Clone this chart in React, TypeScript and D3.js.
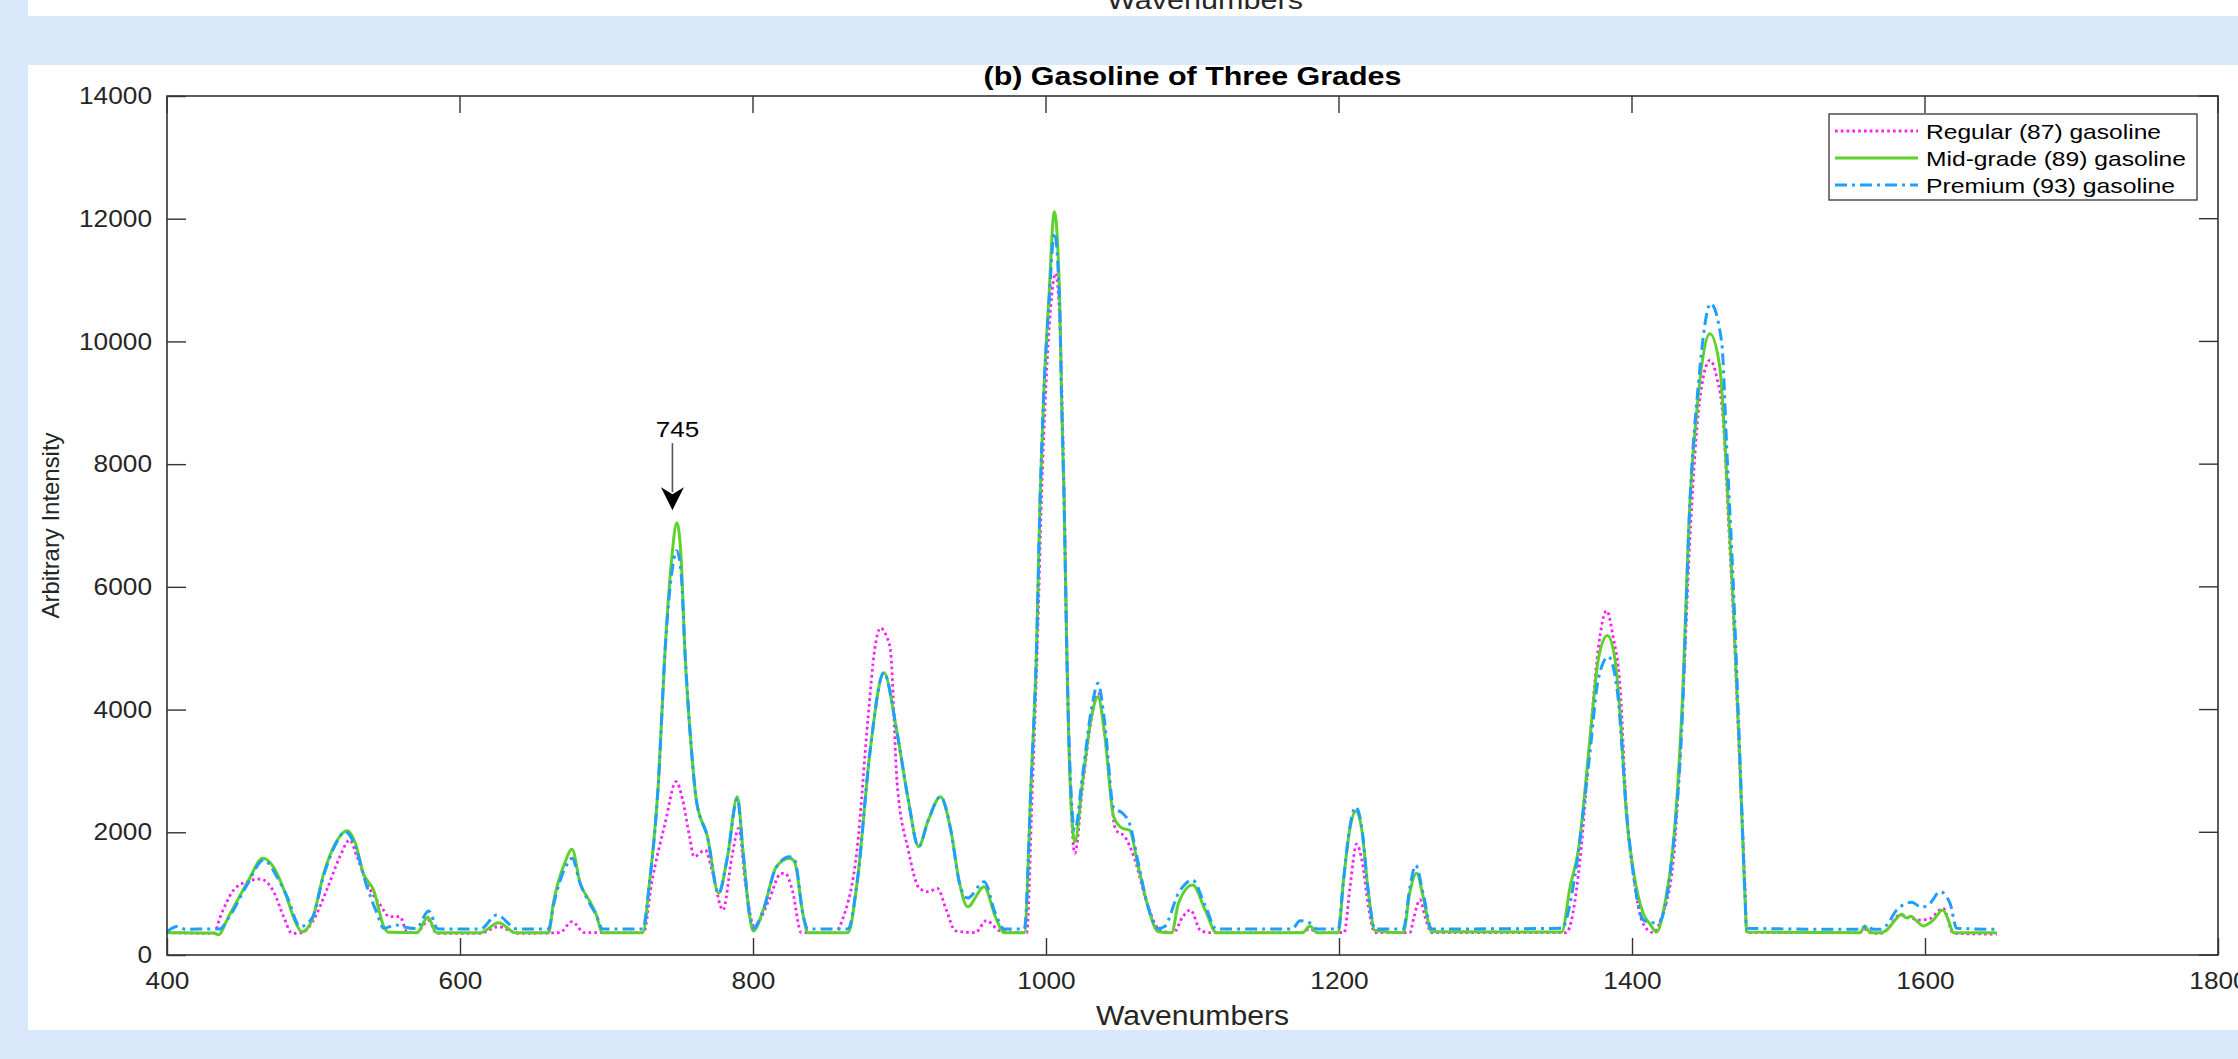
import React, { useRef, useEffect } from 'react';
import * as d3 from 'd3';

// Regular (87) gasoline — wavenumber / intensity
const regularWave = [400, 432, 436.4, 445.5, 454.6, 463.7, 472.8, 479.6, 485.3, 492, 500, 509, 518, 524.7, 529.7, 536.5, 545.6, 552, 559, 563.8, 570, 578.6, 584, 614, 626, 640, 668, 676.5, 685, 725.3, 730.8, 740, 747.5, 752, 756.7, 759.7, 767.4, 772, 779.5, 785.6, 790.2, 794.8, 800.9, 804, 811, 819.2, 822, 826.8, 833, 855.7, 861.8, 871, 878.6, 883, 887, 891, 893.8, 898.4, 906, 913.6, 919.7, 925.8, 932, 938, 951.7, 959.3, 968.5, 986.8, 990.5, 994, 997, 1000, 1003, 1006.5, 1009.5, 1011, 1012.5, 1014.2, 1016, 1019.7, 1024.8, 1031, 1035.5, 1040, 1047.7, 1053.8, 1060, 1069, 1078, 1087, 1093.4, 1098.6, 1105.6, 1112, 1175, 1180, 1185, 1203.5, 1207.5, 1212, 1216, 1220, 1224.5, 1248.4, 1251, 1255.3, 1259, 1263.2, 1355, 1364.5, 1371.3, 1377, 1382.7, 1387, 1391.8, 1396.4, 1401, 1407.7, 1414.6, 1420, 1428.2, 1434, 1440, 1446, 1453.2, 1458, 1462.3, 1466, 1469.2, 1473.7, 1477, 1478.3, 1555, 1560, 1565, 1570, 1573.9, 1583, 1590, 1596.6, 1603, 1612.5, 1619.4, 1649];
const regularValue = [364, 353, 625, 1059, 1195, 1239, 1032, 625, 353, 360, 570, 1059, 1602, 1874, 1602, 1168, 815, 625, 625, 380, 364, 560, 353, 353, 460, 353, 364, 543, 364, 364, 1168, 2146, 2825, 2526, 1928, 1602, 1711, 1385, 733, 1602, 2064, 1168, 462, 543, 900, 1331, 1331, 1059, 364, 364, 625, 1711, 3884, 4971, 5330, 5200, 4971, 2798, 1711, 1086, 1032, 1086, 733, 397, 364, 560, 397, 364, 2600, 4971, 7500, 9300, 10500, 11109, 10300, 9000, 7400, 4971, 3200, 1657, 2700, 3850, 4265, 3600, 2037, 1928, 1602, 842, 397, 364, 625, 733, 397, 364, 364, 430, 364, 364, 1100, 1807, 1500, 800, 364, 364, 600, 901, 600, 364, 364, 1543, 3500, 5000, 5611, 5200, 4386, 2300, 1300, 505, 364, 600, 1543, 3800, 7000, 9000, 9692, 9400, 8700, 7000, 5500, 3000, 1200, 364, 364, 420, 353, 353, 407, 652, 600, 570, 590, 760, 353, 340];

// Mid-grade (89) gasoline
const midWave = [400, 420, 432, 435, 442, 454.6, 465.5, 472.8, 480.8, 487.6, 492, 499, 507, 515, 522.9, 528.6, 534, 541, 548, 551, 570.6, 578, 584, 614, 626.4, 637.8, 660.5, 663.7, 671.4, 676.5, 682, 688.1, 692.7, 697.3, 724.7, 729.3, 735.4, 740, 744.4, 748, 751, 753.5, 758, 761.3, 768.9, 776.5, 782.6, 789.3, 793.3, 797.8, 800.3, 807, 816, 825, 828.3, 834.4, 837.4, 864.9, 871, 880, 889.3, 898.4, 906, 913, 919.7, 928, 935, 941, 946.5, 957.8, 965.4, 971.5, 985.2, 989.8, 993.5, 996, 998.4, 1002, 1005.7, 1009.3, 1010.6, 1012.3, 1014.2, 1015.7, 1019.7, 1024.8, 1031, 1035.5, 1040, 1046.2, 1052.3, 1056.9, 1063, 1069, 1076.6, 1085.8, 1090.4, 1100.1, 1108.7, 1116.3, 1175, 1180.2, 1185, 1199.5, 1203, 1207.5, 1211.4, 1215.4, 1220, 1224.5, 1243.9, 1248.4, 1253, 1257.5, 1263.2, 1352, 1357.7, 1363.4, 1371.3, 1377, 1383.2, 1388.4, 1391.8, 1396.4, 1401, 1407.7, 1412.3, 1416.8, 1422.5, 1428.2, 1434, 1439.6, 1445.3, 1453.2, 1460, 1464.6, 1469.2, 1473.7, 1477.1, 1478.3, 1555.7, 1559, 1562.5, 1570.4, 1575, 1579.6, 1584.1, 1587.5, 1590.2, 1594.3, 1598.9, 1605.7, 1612.1, 1616, 1619.4, 1649];
const midValue = [364, 360, 358, 330, 625, 1168, 1575, 1429, 1005, 543, 380, 570, 1331, 1820, 2026, 1820, 1331, 1059, 462, 370, 364, 614, 364, 364, 527, 364, 364, 842, 1494, 1722, 1168, 896, 679, 364, 364, 1168, 2798, 4971, 6437, 7046, 6437, 4971, 3341, 2526, 1928, 1005, 1602, 2580, 1657, 625, 391, 733, 1439, 1575, 1521, 625, 364, 364, 1168, 3341, 4601, 3612, 2526, 1766, 2200, 2580, 2037, 1168, 788, 1114, 625, 364, 364, 2798, 4971, 7468, 9098, 10727, 12114, 10727, 9098, 7468, 4971, 3341, 1847, 2798, 3884, 4210, 3612, 2254, 2064, 2037, 1439, 842, 380, 364, 842, 1141, 733, 364, 364, 471, 364, 364, 1204, 2066, 2342, 2066, 1032, 400, 364, 1032, 1333, 945, 380, 375, 1108, 1711, 3523, 4818, 5206, 4818, 3955, 2230, 1367, 676, 505, 375, 849, 1798, 3955, 7405, 9131, 10124, 9563, 7837, 5681, 3092, 935, 375, 364, 473, 364, 364, 435, 570, 663, 603, 630, 554, 473, 570, 733, 570, 364, 364];

// Premium (93) gasoline
const premiumWave = [400, 407, 413, 420, 436, 442, 454.6, 466, 475, 482, 491, 499, 507, 515, 521.7, 528, 536.5, 543, 548, 556, 564, 570, 578.6, 585, 614, 625, 639, 660.5, 663.7, 671.4, 676.5, 682, 688, 693, 697.3, 724.7, 729.3, 735.4, 740, 744.4, 748, 751, 753.5, 758, 761.3, 768.9, 776.5, 782.6, 789.3, 793.3, 797.8, 800.3, 807, 816, 825, 828.3, 834.4, 837.4, 864.9, 871, 880, 889.3, 898.4, 906, 913, 919.7, 928, 935, 941, 946.5, 957.8, 965.4, 971.5, 985.2, 989.8, 993.5, 996, 998.4, 1002, 1005.7, 1009.3, 1010.6, 1012.3, 1014.2, 1015.7, 1019.7, 1024.8, 1031, 1035.5, 1040, 1046.2, 1052.3, 1056.9, 1063, 1069, 1076.6, 1081, 1090.4, 1100, 1108.7, 1116.3, 1168, 1173.4, 1180.2, 1185, 1199.5, 1203, 1207.5, 1211.4, 1215.4, 1220, 1224.5, 1243.9, 1248.4, 1252.3, 1257.5, 1263.2, 1352, 1361, 1371.3, 1377, 1383.9, 1390, 1396.4, 1401, 1407.7, 1413.4, 1418, 1427, 1434, 1439.6, 1445.3, 1453.7, 1461.2, 1464.6, 1469.2, 1473.7, 1477.1, 1478.3, 1555.7, 1559.8, 1565, 1570, 1573.9, 1580.7, 1590.9, 1597.8, 1603.4, 1610.3, 1617.1, 1621.6, 1649];
const premiumValue = [380, 463, 418, 424, 424, 600, 1140, 1548, 1277, 950, 463, 600, 1300, 1800, 2010, 1800, 1113, 700, 435, 489, 446, 430, 717, 424, 424, 652, 424, 424, 800, 1400, 1575, 1168, 860, 650, 424, 424, 1168, 2798, 4971, 6200, 6590, 6200, 4971, 3341, 2526, 1928, 1005, 1602, 2550, 1657, 625, 437, 733, 1439, 1602, 1560, 625, 424, 424, 1168, 3341, 4601, 3612, 2526, 1766, 2200, 2580, 2037, 1168, 929, 1195, 680, 424, 424, 2798, 4971, 7468, 9098, 10600, 11772, 10600, 9098, 7468, 4971, 3500, 2037, 2900, 4000, 4427, 3800, 2400, 2309, 2150, 1500, 842, 430, 466, 1005, 1222, 800, 424, 424, 557, 520, 424, 424, 1204, 2100, 2412, 2100, 1032, 424, 424, 1100, 1462, 1000, 424, 435, 1281, 3300, 4500, 4861, 4300, 2300, 1300, 570, 525, 525, 1543, 3700, 7405, 9300, 10616, 9993, 8300, 6000, 3200, 1000, 435, 418, 473, 418, 418, 489, 733, 858, 777, 842, 1032, 842, 435, 418];

const seriesNames = ['Regular (87) gasoline', 'Mid-grade (89) gasoline', 'Premium (93) gasoline'];
const xTicks = [400, 600, 800, 1000, 1200, 1400, 1600, 1800];
const yTicks = [0, 2000, 4000, 6000, 8000, 10000, 12000, 14000];
const peakLabel = 745;

const W = 2238;
const H = 1059;
const FONT = "'Liberation Sans', Arial, Helvetica, sans-serif";
const AXIS = '#333333';

const styles = [
  { color: '#ff1aff', dash: '2.6,3.2', width: 2.8, legendW: 235 },
  { color: '#5fd22a', dash: null, width: 3, legendW: 260 },
  { color: '#1f9fff', dash: '12,5,3,5', width: 3, legendW: 249 },
];

const App: React.FC = () => {
  const ref = useRef<SVGSVGElement>(null);

  useEffect(() => {
    if (!ref.current) return;
    const svg = d3.select(ref.current);
    svg.selectAll('*').remove();

    const left = 167, right = 2218, top = 96, bottom = 955;
    const x = d3.scaleLinear().domain([400, 1800]).range([left, right]);
    const y = d3.scaleLinear().domain([0, 14000]).range([bottom, top]);

    // page background and the white figure panels
    svg.append('rect').attr('width', W).attr('height', H).attr('fill', '#d9e9fb');
    svg.append('rect').attr('x', 28).attr('y', 0).attr('width', W - 28).attr('height', 16).attr('fill', '#fff');
    svg.append('rect').attr('x', 28).attr('y', 65).attr('width', W - 28).attr('height', 965).attr('fill', '#fff');

    // tail of the x label from the panel above (cut off in the original too)
    svg.append('text')
      .attr('x', 1205).attr('y', 9)
      .attr('text-anchor', 'middle')
      .attr('font-size', 26)
      .attr('textLength', 196).attr('lengthAdjust', 'spacingAndGlyphs')
      .attr('fill', '#262626')
      .text('Wavenumbers');

    const seriesData: [number, number][][] = [
      d3.zip(regularWave, regularValue) as [number, number][],
      d3.zip(midWave, midValue) as [number, number][],
      d3.zip(premiumWave, premiumValue) as [number, number][],
    ];

    const line = d3.line<[number, number]>()
      .x(d => x(d[0]))
      .y(d => y(d[1]))
      .curve(d3.curveMonotoneX);

    const plot = svg.append('g');
    seriesData.forEach((pts, i) => {
      const p = plot.append('path')
        .datum(pts)
        .attr('fill', 'none')
        .attr('stroke', styles[i].color)
        .attr('stroke-width', styles[i].width)
        .attr('stroke-linejoin', 'round')
        .attr('d', line);
      if (styles[i].dash) p.attr('stroke-dasharray', styles[i].dash);
    });

    // axes: ticks inward, box on
    const xAxis = d3.axisBottom(x).tickValues(xTicks).tickSizeInner(-17).tickSizeOuter(0).tickPadding(17).tickFormat(d3.format('d'));
    const yAxis = d3.axisLeft(y).tickValues(yTicks).tickSizeInner(-19).tickSizeOuter(0).tickPadding(15).tickFormat(d3.format('d'));

    const gx = svg.append('g').attr('transform', `translate(0,${bottom})`).call(xAxis);
    const gy = svg.append('g').attr('transform', `translate(${left},0)`).call(yAxis);
    [gx, gy].forEach(g => {
      g.select('.domain').remove();
      g.selectAll('line').attr('stroke', AXIS).attr('stroke-width', 1.4);
      g.selectAll('text')
        .attr('fill', '#262626')
        .attr('font-family', FONT)
        .attr('font-size', 24)
        .attr('textLength', (d: any) => String(d).length * 14.6)
        .attr('lengthAdjust', 'spacingAndGlyphs');
    });

    // mirrored ticks on top and right
    svg.append('g').selectAll('line').data(xTicks).join('line')
      .attr('x1', d => x(d)).attr('x2', d => x(d))
      .attr('y1', top).attr('y2', top + 17)
      .attr('stroke', AXIS).attr('stroke-width', 1.4);
    svg.append('g').selectAll('line').data(yTicks).join('line')
      .attr('x1', right).attr('x2', right - 19)
      .attr('y1', d => y(d)).attr('y2', d => y(d))
      .attr('stroke', AXIS).attr('stroke-width', 1.4);

    svg.append('rect')
      .attr('x', left).attr('y', top)
      .attr('width', right - left).attr('height', bottom - top)
      .attr('fill', 'none').attr('stroke', AXIS).attr('stroke-width', 1.6);

    // title and axis labels
    svg.append('text')
      .attr('x', (left + right) / 2).attr('y', 85)
      .attr('text-anchor', 'middle')
      .attr('font-weight', 'bold').attr('font-size', 25)
      .attr('textLength', 418).attr('lengthAdjust', 'spacingAndGlyphs')
      .attr('fill', '#000')
      .text('(b) Gasoline of Three Grades');

    svg.append('text')
      .attr('x', (left + right) / 2).attr('y', 1025)
      .attr('text-anchor', 'middle')
      .attr('font-size', 27)
      .attr('textLength', 193).attr('lengthAdjust', 'spacingAndGlyphs')
      .attr('fill', '#262626')
      .text('Wavenumbers');

    svg.append('text')
      .attr('transform', `translate(59,${(top + bottom) / 2}) rotate(-90)`)
      .attr('text-anchor', 'middle')
      .attr('font-size', 24)
      .attr('textLength', 186).attr('lengthAdjust', 'spacingAndGlyphs')
      .attr('fill', '#262626')
      .text('Arbitrary Intensity');

    // annotation arrow over the 745 band
    const ax = x(peakLabel);
    const tipY = y(7250);
    svg.append('line')
      .attr('x1', ax).attr('x2', ax)
      .attr('y1', tipY - 67).attr('y2', tipY - 18)
      .attr('stroke', '#555').attr('stroke-width', 1.6);
    svg.append('path')
      .attr('d', `M${ax},${tipY} L${ax - 11.5},${tipY - 23} L${ax},${tipY - 16} L${ax + 11.5},${tipY - 23} Z`)
      .attr('fill', '#000');
    svg.append('text')
      .attr('x', ax + 5).attr('y', tipY - 73)
      .attr('text-anchor', 'middle')
      .attr('font-size', 22.5)
      .attr('textLength', 43.5).attr('lengthAdjust', 'spacingAndGlyphs')
      .attr('fill', '#000')
      .text(String(peakLabel));

    // legend
    const lg = svg.append('g');
    lg.append('rect')
      .attr('x', 1829).attr('y', 114).attr('width', 368).attr('height', 86)
      .attr('fill', '#fff').attr('stroke', '#333').attr('stroke-width', 1.3);
    seriesNames.forEach((name, i) => {
      const ly = 131 + i * 27;
      const l = lg.append('line')
        .attr('x1', 1835).attr('x2', 1918).attr('y1', ly).attr('y2', ly)
        .attr('stroke', styles[i].color).attr('stroke-width', styles[i].width);
      if (styles[i].dash) l.attr('stroke-dasharray', styles[i].dash);
      lg.append('text')
        .attr('x', 1926).attr('y', ly + 7.5)
        .attr('font-size', 21)
        .attr('textLength', styles[i].legendW).attr('lengthAdjust', 'spacingAndGlyphs')
        .attr('fill', '#000')
        .text(name);
    });
  }, []);

  return (
    <svg
      ref={ref}
      width={W}
      height={H}
      fontFamily={FONT}
      style={{ position: 'absolute', left: 0, top: 0, display: 'block' }}
    />
  );
};

export default App;
